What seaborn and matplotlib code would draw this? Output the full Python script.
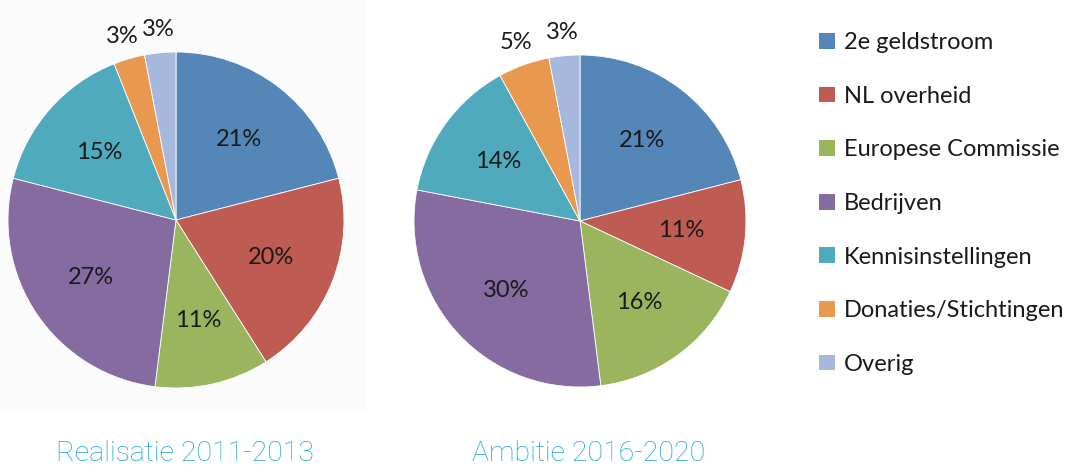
import numpy as np
import pandas as pd
import seaborn as sns
import matplotlib.pyplot as plt
from matplotlib.patches import Patch, Rectangle

# Data
categories = ['2e geldstroom', 'NL overheid', 'Europese Commissie', 'Bedrijven',
              'Kennisinstellingen', 'Donaties/Stichtingen', 'Overig']
realisatie = [21, 20, 11, 27, 15, 3, 3]
ambitie = [21, 11, 16, 30, 14, 5, 3]
titles = ['Realisatie 2011-2013', 'Ambitie 2016-2020']

colors = sns.color_palette(['#5586b8', '#be5b53', '#9bb55e', '#856ba0',
                            '#4faabe', '#e8994f', '#a6b9dc'])

sns.set_theme(style='white')
plt.rcParams['font.family'] = ['Lato', 'DejaVu Sans']

W, H = 1079, 469
fig = plt.figure(figsize=(W / 100, H / 100), dpi=100)

# faint background behind left pie
fig.patches.append(Rectangle((0, (H - 410) / H), 365 / W, 410 / H,
                             transform=fig.transFigure, color='#fbfbfb', zorder=-1))


def draw_pie(cx, cy, r, values, title):
    ax = fig.add_axes([(cx - r) / W, (H - cy - r) / H, 2 * r / W, 2 * r / H])
    ax.patch.set_alpha(0)
    ax.pie(values, colors=colors, startangle=90, counterclock=False,
           radius=1, wedgeprops=dict(edgecolor='white', linewidth=0.6))
    total = sum(values)
    cum = 0
    for v in values:
        mid = 90 - (cum + v / 2) / total * 360
        cum += v
        d = 0.61 if v >= 10 else 1.14
        ax.text(d * np.cos(np.radians(mid)), d * np.sin(np.radians(mid)), f'{v}%',
                ha='center', va='center', fontsize=17, color='#1a1a1a')
    ax.set_xlim(-1, 1)
    ax.set_ylim(-1, 1)
    ax.set_aspect('equal')
    ax.axis('off')
    fig.text(cx / W + 0.008, 1 - 453 / H, title, ha='center', va='center',
             fontsize=20.5, color='#1aa3d9', family=['Roboto', 'DejaVu Sans'],
             fontweight='light')


draw_pie(176, 220, 168, realisatie, titles[0])
draw_pie(580, 221, 166, ambitie, titles[1])

handles = [Patch(facecolor=c, edgecolor='none') for c in colors]
fig.legend(handles, categories, loc='upper left', bbox_to_anchor=(798 / W, 1 - 11 / H),
           frameon=False, fontsize=17, labelspacing=1.38, handlelength=0.65,
           handleheight=0.65, handletextpad=0.4, labelcolor='#1a1a1a')

fig.savefig('out.png', dpi=100)
